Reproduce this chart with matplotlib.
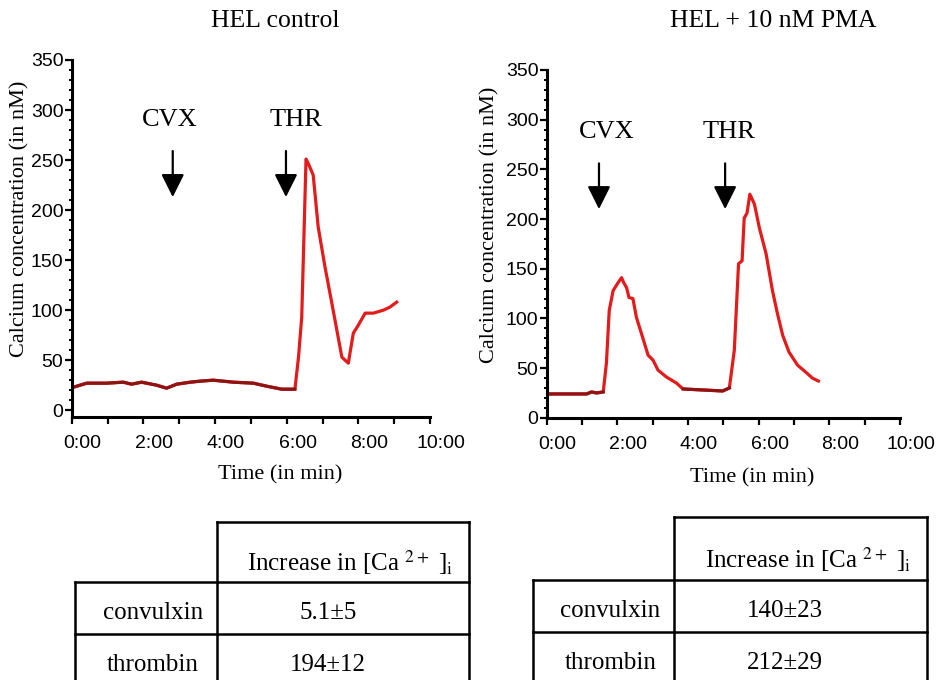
import matplotlib
matplotlib.use('Agg')
import matplotlib.pyplot as plt
import matplotlib.transforms as mtransforms
import numpy as np

plt.rcParams['mathtext.fontset'] = 'stix'

# time in minutes, calcium in nM
ctrl_t = [0.05, 0.42, 0.97, 1.44, 1.67, 1.95, 2.37, 2.65, 2.93, 3.31, 3.58, 3.95,
          4.23, 4.51, 5.07, 5.44, 5.86, 6.23, 6.33, 6.42, 6.54, 6.61, 6.74, 6.88,
          7.07, 7.26, 7.40, 7.54, 7.72, 7.86, 8.00, 8.19, 8.42, 8.70, 8.88, 9.07]
ctrl_ca = [23, 27, 27, 28, 26, 28, 25, 22, 26, 28, 29, 30,
           29, 28, 27, 24, 21, 21, 53, 93, 251, 246, 235, 183,
           143, 107, 80, 53, 47, 77, 85, 97, 97, 100, 103, 108]
ctrl_base_end = 17   # index where the thrombin response starts

pma_t = [0.00, 1.13, 1.27, 1.41, 1.60, 1.69, 1.77, 1.88, 2.02, 2.12, 2.18, 2.26,
         2.33, 2.44, 2.54, 2.68, 2.87, 3.01, 3.15, 3.39, 3.67, 3.86, 4.42, 4.98,
         5.17, 5.31, 5.43, 5.53, 5.59, 5.67, 5.75, 5.88, 6.02, 6.21, 6.39, 6.53,
         6.68, 6.86, 7.10, 7.33, 7.52, 7.69]
pma_ca = [24, 24, 26, 25, 26, 55, 108, 128, 136, 141, 136, 131,
          121, 120, 101, 85, 63, 58, 48, 41, 35, 29, 28, 27,
          30, 68, 155, 158, 201, 206, 225, 215, 191, 165, 128, 105,
          83, 66, 53, 46, 40, 37]
pma_flat = [(0, 4), (21, 24)]

titles = ['HEL control', 'HEL + 10 nM PMA']
arrow_names = ['CVX', 'THR']
ctrl_arrow_t = [2.82, 5.98]
pma_arrow_t = [1.48, 5.05]
ctrl_label_t = [2.74, 6.26]
pma_label_t = [1.69, 5.17]

row_names = ['convulxin', 'thrombin']
ctrl_vals = ['5.1\u00b15', '194\u00b112']
pma_vals = ['140\u00b123', '212\u00b129']
header = r'Increase in [Ca $^{2+}$ ]$_{\mathrm{i}}$'

W, H = 947, 680
fig = plt.figure(figsize=(W / 100, H / 100), dpi=100)

def fx(px):
    return px / W

def fy(py):
    return 1 - py / H

RED = '#e31b1b'
DARK = '#8e1414'
SERIF = 'Liberation Serif'
SANS = 'Liberation Sans'


def setup_axes(rect, ymin):
    ax = fig.add_axes(rect)
    ax.set_xlim(0, 10)
    ax.set_ylim(ymin, 350)
    for s in ['top', 'right']:
        ax.spines[s].set_visible(False)
    for s in ['left', 'bottom']:
        ax.spines[s].set_linewidth(2.2)
    ax.set_yticks(np.arange(0, 351, 50))
    ax.set_yticks(np.arange(0, 351, 10), minor=True)
    ax.set_xticks(np.arange(0, 11, 2))
    ax.set_xticks(np.arange(1, 10, 2), minor=True)
    ax.set_xticklabels([f'{m}:00' for m in range(0, 11, 2)])
    ax.tick_params(axis='both', which='major', direction='out', length=5, width=1.6,
                   labelsize=14)
    ax.tick_params(axis='y', which='major', pad=1)
    ax.tick_params(axis='x', which='major', pad=8)
    ax.tick_params(axis='y', which='minor', direction='out', length=2.5, width=1.4)
    ax.tick_params(axis='x', which='minor', direction='out', length=5, width=1.6)
    for lab in ax.get_xticklabels() + ax.get_yticklabels():
        lab.set_fontfamily(SANS)
    off = mtransforms.ScaledTranslation(0.11, 0, fig.dpi_scale_trans)
    for lab in ax.get_xticklabels():
        lab.set_transform(lab.get_transform() + off)
    return ax


def add_arrows(ax, arrow_t, label_t, top, tip, ylab):
    for name, at, lt in zip(arrow_names, arrow_t, label_t):
        ax.annotate('', xy=(at, tip), xytext=(at, top),
                    arrowprops=dict(arrowstyle='-|>,head_length=1.4,head_width=0.7',
                                    lw=1.6, color='black', shrinkA=0, shrinkB=0))
        ax.text(lt, ylab, name, ha='center', va='center', fontsize=19, family=SERIF)


# left panel
ax1 = setup_axes([fx(71.7), fy(416.7), fx(430) - fx(71.7), (416.7 - 60) / H], -6.5)
ax1.plot(ctrl_t, ctrl_ca, color=RED, lw=2.3, solid_joinstyle='round')
ax1.plot(ctrl_t[:ctrl_base_end + 1], ctrl_ca[:ctrl_base_end + 1], color=DARK, lw=2.3)
add_arrows(ax1, ctrl_arrow_t, ctrl_label_t, 259, 213, 290)

# right panel
ax2 = setup_axes([fx(546.7), fy(418.3), fx(900) - fx(546.7), (418.3 - 70) / H], -0.5)
ax2.plot(pma_t, pma_ca, color=RED, lw=2.3, solid_joinstyle='round')
for a, b in pma_flat:
    ax2.plot(pma_t[a:b + 1], pma_ca[a:b + 1], color=DARK, lw=2.3)
add_arrows(ax2, pma_arrow_t, pma_label_t, 256, 210, 288)

# titles and axis labels
fig.text(fx(275), fy(21), titles[0], ha='center', va='center', fontsize=18.5, family=SERIF)
fig.text(fx(773), fy(21), titles[1], ha='center', va='center', fontsize=18.5, family=SERIF)
fig.text(fx(19.5), fy(219), 'Calcium concentration (in nM)', rotation=90,
         ha='center', va='center', fontsize=16, family=SERIF)
fig.text(fx(490), fy(225), 'Calcium concentration (in nM)', rotation=90,
         ha='center', va='center', fontsize=16, family=SERIF)
fig.text(fx(280), fy(475), 'Time (in min)', ha='center', va='center', fontsize=16, family=SERIF)
fig.text(fx(752), fy(478), 'Time (in min)', ha='center', va='center', fontsize=16, family=SERIF)

# tables
tab = fig.add_axes([0, 0, 1, 1])
tab.set_xlim(0, W)
tab.set_ylim(H, 0)
tab.axis('off')


def draw_table(x0, x1, x2, ytop, yh, rh, vals):
    lw = 1.8
    bottom = H + 10
    tab.plot([x1, x2], [ytop, ytop], color='k', lw=lw)
    tab.plot([x1, x1], [ytop, bottom], color='k', lw=lw)
    tab.plot([x2, x2], [ytop, bottom], color='k', lw=lw)
    tab.plot([x0, x0], [yh, bottom], color='k', lw=lw)
    for k in range(2):
        tab.plot([x0, x2], [yh + k * rh, yh + k * rh], color='k', lw=lw)
    tab.text(x1 + 0.53 * (x2 - x1), ytop + 0.68 * (yh - ytop), header,
             ha='center', va='center', fontsize=18, family=SERIF)
    for k, (name, v) in enumerate(zip(row_names, vals)):
        yc = yh + k * rh + 0.6 * rh
        tab.text((x0 + x1) / 2 + 7, yc, name, ha='center', va='center',
                 fontsize=18, family=SERIF)
        tab.text(x1 + 0.44 * (x2 - x1), yc, v, ha='center', va='center',
                 fontsize=18, family=SERIF)


draw_table(75, 216.7, 469, 521.7, 581.7, 52.3, ctrl_vals)
draw_table(532.7, 674, 926.7, 517.3, 580, 51.7, pma_vals)

fig.savefig('out.png', dpi=100)
